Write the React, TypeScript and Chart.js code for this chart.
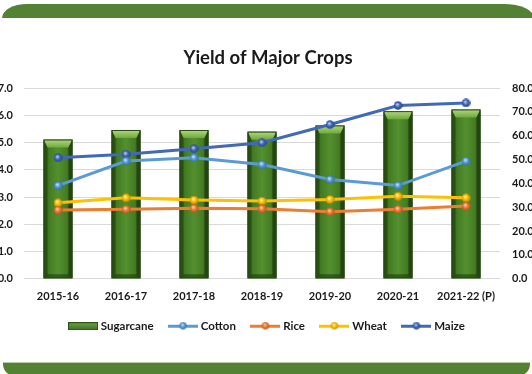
import React, { useEffect, useRef } from "react";
import { Chart, registerables } from "chart.js";

Chart.register(...registerables);

const categories = ["2015-16", "2016-17", "2017-18", "2018-19", "2019-20", "2020-21", "2021-22 (P)"];
const sugarcane = [58.4, 62.4, 62.4, 61.7, 64.3, 70.3, 71.0];
const cotton = [3.42, 4.32, 4.44, 4.19, 3.64, 3.42, 4.32];
const rice = [2.52, 2.55, 2.59, 2.57, 2.46, 2.55, 2.67];
const wheat = [2.79, 2.97, 2.89, 2.85, 2.91, 3.03, 2.97];
const maize = [4.44, 4.57, 4.77, 4.99, 5.66, 6.36, 6.45];
const seriesNames = ["Sugarcane", "Cotton", "Rice", "Wheat", "Maize"];
const leftAxis = { min: 0, max: 7, step: 1 };
const rightAxis = { min: 0, max: 80, step: 10 };

const FONT = "Lato, 'Open Sans', sans-serif";

function makeBall(base: string, light: string, dark: string, size = 9) {
  const c = document.createElement("canvas");
  c.width = size;
  c.height = size;
  const ctx = c.getContext("2d")!;
  const r = size / 2;
  const g = ctx.createRadialGradient(r - 0.8, r - 1.2, 0.4, r, r, r);
  g.addColorStop(0, light);
  g.addColorStop(0.45, base);
  g.addColorStop(1, dark);
  ctx.fillStyle = g;
  ctx.beginPath();
  ctx.arc(r, r, r - 0.2, 0, Math.PI * 2);
  ctx.fill();
  return c;
}

function makeLegendLine(color: string, ball: HTMLCanvasElement) {
  const c = document.createElement("canvas");
  c.width = 30;
  c.height = 9;
  const ctx = c.getContext("2d")!;
  ctx.fillStyle = color;
  ctx.fillRect(0, 3, 30, 3);
  ctx.drawImage(ball, 11, 0, 8, 8);
  return c;
}

function makeLegendBar() {
  const c = document.createElement("canvas");
  c.width = 30;
  c.height = 8;
  const ctx = c.getContext("2d")!;
  const g = ctx.createLinearGradient(0, 0, 0, 8);
  g.addColorStop(0, "#6fa34a");
  g.addColorStop(1, "#3e7022");
  ctx.fillStyle = g;
  ctx.fillRect(0, 0, 30, 8);
  ctx.strokeStyle = "#2d5418";
  ctx.lineWidth = 1;
  ctx.strokeRect(0.5, 0.5, 29, 7);
  return c;
}

const barBevel = {
  id: "barBevel",
  afterDatasetDraw(chart: any, args: any) {
    if (args.index !== 0) return;
    const ctx = chart.ctx;
    args.meta.data.forEach((el: any) => {
      const p = el.getProps(["x", "y", "base", "width"], true);
      const l = p.x - p.width / 2;
      const r = p.x + p.width / 2;
      const t = Math.min(p.y, p.base);
      const b = Math.max(p.y, p.base);
      const bw = 4;
      const bh = 8;
      ctx.save();
      const g = ctx.createLinearGradient(l, 0, r, 0);
      g.addColorStop(0, "#2c5416");
      g.addColorStop(0.2, "#457c24");
      g.addColorStop(0.5, "#53902e");
      g.addColorStop(0.8, "#457c24");
      g.addColorStop(1, "#2c5416");
      ctx.fillStyle = g;
      ctx.fillRect(l, t, r - l, b - t);
      const tg = ctx.createLinearGradient(0, t, 0, t + bh);
      tg.addColorStop(0, "#b2da7a");
      tg.addColorStop(1, "#6fa840");
      ctx.fillStyle = tg;
      ctx.beginPath();
      ctx.moveTo(l, t);
      ctx.lineTo(r, t);
      ctx.lineTo(r - bw, t + bh);
      ctx.lineTo(l + bw, t + bh);
      ctx.closePath();
      ctx.fill();
      ctx.fillStyle = "rgba(25,55,12,0.45)";
      ctx.beginPath();
      ctx.moveTo(l, t);
      ctx.lineTo(l + bw, t + bh);
      ctx.lineTo(l + bw, b - bw);
      ctx.lineTo(l, b);
      ctx.closePath();
      ctx.fill();
      ctx.fillStyle = "rgba(20,45,10,0.55)";
      ctx.beginPath();
      ctx.moveTo(r, t);
      ctx.lineTo(r - bw, t + bh);
      ctx.lineTo(r - bw, b - bw);
      ctx.lineTo(r, b);
      ctx.closePath();
      ctx.fill();
      ctx.fillStyle = "rgba(20,45,10,0.5)";
      ctx.beginPath();
      ctx.moveTo(l, b);
      ctx.lineTo(l + bw, b - bw);
      ctx.lineTo(r - bw, b - bw);
      ctx.lineTo(r, b);
      ctx.closePath();
      ctx.fill();
      ctx.strokeStyle = "#294b14";
      ctx.lineWidth = 1;
      ctx.strokeRect(l + 0.5, t + 0.5, r - l - 1, b - t - 1);
      ctx.restore();
    });
  },
};

export default function App() {
  const ref = useRef<HTMLCanvasElement | null>(null);

  useEffect(() => {
    if (!ref.current) return;
    const colors = {
      cotton: ["#5b9bd5", "#cfe3f7", "#2f6fa8"],
      rice: ["#ed7d31", "#fbd0b0", "#b3541a"],
      wheat: ["#ffc000", "#fff0b0", "#c08a00"],
      maize: ["#4169b8", "#c5d3f0", "#24448a"],
    };
    const balls = {
      cotton: makeBall(colors.cotton[0], colors.cotton[1], colors.cotton[2]),
      rice: makeBall(colors.rice[0], colors.rice[1], colors.rice[2]),
      wheat: makeBall(colors.wheat[0], colors.wheat[1], colors.wheat[2]),
      maize: makeBall(colors.maize[0], colors.maize[1], colors.maize[2]),
    };
    const legendImgs = [
      makeLegendBar(),
      makeLegendLine(colors.cotton[0], balls.cotton),
      makeLegendLine(colors.rice[0], balls.rice),
      makeLegendLine(colors.wheat[0], balls.wheat),
      makeLegendLine(colors.maize[0], balls.maize),
    ];

    const lineDs = (label: string, data: number[], key: keyof typeof colors) => ({
      type: "line" as const,
      label,
      data,
      yAxisID: "y",
      borderColor: colors[key][0],
      backgroundColor: colors[key][0],
      borderWidth: 3,
      pointStyle: balls[key] as any,
      pointRadius: 4.5,
      order: 1,
    });

    const chart = new Chart(ref.current, {
      type: "bar",
      data: {
        labels: categories,
        datasets: [
          {
            type: "bar",
            label: seriesNames[0],
            data: sugarcane,
            yAxisID: "y1",
            backgroundColor: "#4a8228",
            borderWidth: 0,
            barPercentage: 0.53,
            categoryPercentage: 0.8,
            order: 2,
          },
          lineDs(seriesNames[1], cotton, "cotton"),
          lineDs(seriesNames[2], rice, "rice"),
          lineDs(seriesNames[3], wheat, "wheat"),
          lineDs(seriesNames[4], maize, "maize"),
        ] as any,
      },
      plugins: [barBevel],
      options: {
        responsive: false,
        animation: false,
        devicePixelRatio: 1,
        layout: { padding: { left: 12, right: 0, top: 0, bottom: 32 } },
        plugins: {
          title: {
            display: true,
            text: "Yield of Major Crops",
            color: "#1a1a1a",
            font: { family: FONT, size: 18.5, weight: "bold" },
            padding: { top: 47, bottom: 18.8 },
          },
          legend: {
            position: "bottom",
            labels: {
              usePointStyle: true,
              pointStyleWidth: 24,
              padding: 17.5,
              color: "#1a1a1a",
              font: { family: FONT, size: 11.5, weight: "bold" },
              sort: (a: any, b: any) => a.datasetIndex - b.datasetIndex,
              generateLabels: (c: any) => {
                const items = (Chart.defaults.plugins.legend.labels as any).generateLabels(c);
                return items.map((it: any) => ({ ...it, pointStyle: legendImgs[it.datasetIndex] }));
              },
            },
          },
          tooltip: { enabled: false },
        },
        scales: {
          x: {
            grid: { display: false, drawTicks: false },
            border: { display: false },
            afterFit: (s: any) => {
              s.height = 24.2;
            },
            ticks: {
              color: "#1a1a1a",
              padding: 11,
              font: { family: FONT, size: 11, weight: "bold" },
              maxRotation: 0,
            },
          },
          y: {
            position: "left",
            min: leftAxis.min,
            max: leftAxis.max,
            afterFit: (s: any) => {
              s.width = 28;
            },
            grid: { color: "#d9d9d9", lineWidth: 1, drawTicks: false },
            border: { display: false },
            ticks: {
              stepSize: leftAxis.step,
              padding: 11,
              color: "#1a1a1a",
              font: { family: FONT, size: 11, weight: "bold" },
              callback: (v: any) => Number(v).toFixed(1),
            },
          },
          y1: {
            position: "right",
            min: rightAxis.min,
            max: rightAxis.max,
            afterFit: (s: any) => {
              s.width = 40;
            },
            grid: { drawOnChartArea: false, drawTicks: false },
            border: { display: false },
            ticks: {
              stepSize: rightAxis.step,
              padding: 12,
              color: "#1a1a1a",
              font: { family: FONT, size: 11, weight: "bold" },
              callback: (v: any) => Number(v).toFixed(1),
            },
          },
        },
      } as any,
    });
    return () => chart.destroy();
  }, []);

  return (
    <div
      style={{
        position: "absolute",
        left: 0,
        top: 0,
        width: 532,
        height: 374,
        overflow: "hidden",
        background: "#ffffff",
      }}
    >
      <canvas
        ref={ref}
        width={556}
        height={374}
        style={{ position: "absolute", left: -16, top: 0, width: 556, height: 374 }}
      />
      <div
        style={{
          position: "absolute",
          left: 2,
          top: 4,
          width: 532,
          height: 14,
          background: "#548235",
          borderRadius: "25px 30px 0 0 / 14px 14px 0 0",
        }}
      />
      <div
        style={{
          position: "absolute",
          left: 3,
          top: 362,
          width: 527,
          height: 13,
          background: "#548235",
          borderTop: "1px solid #b9cfab",
          borderRadius: "0 0 12px 12px / 0 0 12px 12px",
        }}
      />
    </div>
  );
}
